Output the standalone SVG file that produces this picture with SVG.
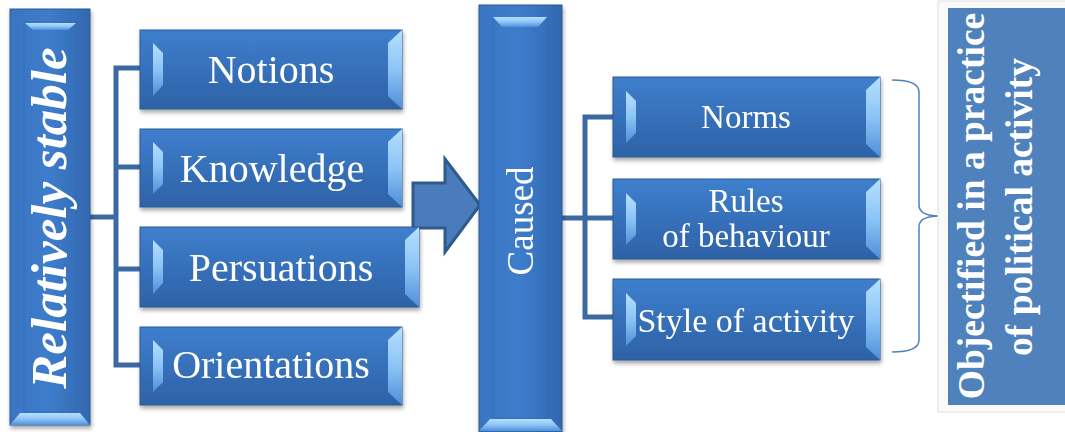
<svg xmlns="http://www.w3.org/2000/svg" width="1065" height="432" viewBox="0 0 1065 432">
<style>
.box{fill:url(#gBox);stroke:#2b5a92;stroke-width:1}
.frame{fill:none;stroke:#2f66a8;stroke-opacity:0.55;stroke-width:1}
.bev{fill:url(#gBev)}
.t{font-family:"Liberation Serif","Times New Roman",serif;fill:#ffffff;text-anchor:middle}
.conn{fill:none;stroke:#3b6aa3;stroke-width:5;stroke-linejoin:miter}
</style>
<defs>
<linearGradient id="gBox" x1="0" y1="0" x2="0" y2="1">
<stop offset="0" stop-color="#3f7fcd"/>
<stop offset="0.5" stop-color="#3670ba"/>
<stop offset="1" stop-color="#2e62a6"/>
</linearGradient>
<linearGradient id="gBoxV" x1="0" y1="0" x2="1" y2="0">
<stop offset="0" stop-color="#3a75c2"/>
<stop offset="0.5" stop-color="#3d7ccb"/>
<stop offset="1" stop-color="#3268b0"/>
</linearGradient>
<linearGradient id="gBev" x1="0" y1="0" x2="0" y2="1">
<stop offset="0" stop-color="#b6e0ff"/>
<stop offset="0.5" stop-color="#8cc4f6"/>
<stop offset="1" stop-color="#4f8fd8"/>
</linearGradient>
<filter id="sh" x="-10%" y="-10%" width="120%" height="125%">
<feGaussianBlur in="SourceAlpha" stdDeviation="2"/>
<feOffset dx="1" dy="3" result="b"/>
<feComponentTransfer><feFuncA type="linear" slope="0.35"/></feComponentTransfer>
<feMerge><feMergeNode/><feMergeNode in="SourceGraphic"/></feMerge>
</filter>
</defs>
<rect width="1065" height="432" fill="#ffffff"/>

<g id="connectors">
<polyline class="conn" points="90,217 116,217"/>
<polyline class="conn" points="140,68 116,68 116,365 140,365"/>
<polyline class="conn" points="116,167 140,167"/>
<polyline class="conn" points="116,269 140,269"/>
<polyline class="conn" points="562,218 585,218"/>
<polyline class="conn" points="613,117 585,117 585,317 613,317"/>
<polyline class="conn" points="585,218 613,218"/>
<polygon id="arrow" points="413,183 445,183 445,159 480,205 445,252 445,228 413,228" fill="#4a7bbb" stroke="#2f5a8c" stroke-width="3" stroke-linejoin="miter"/>
<path id="brace" d="M892,80 Q919,80 919,92 L919,205 Q919,216 939,216 Q919,216 919,227 L919,340 Q919,352 892,352" fill="none" stroke="#4f81bd" stroke-width="1.5"/>
</g>

<g id="relatively-stable" filter="url(#sh)">
<rect class="box" x="10" y="9" width="80" height="416" style="fill:url(#gBoxV)"/>
<rect class="frame" x="24" y="22" width="52" height="390"/>
<polygon class="bev" points="25,23 76,23 68,30 33,30"/>
<polygon class="bev" points="20,413 80,413 90,425 10,425"/>
<text class="t" transform="translate(66,218) rotate(-90)" font-size="51" font-weight="bold" font-style="italic">Relatively  stable</text>
</g>

<g id="notions" filter="url(#sh)">
<rect class="box" x="140" y="30" width="262" height="79"/>
<polygon class="bev" points="153,43 163,53 163,85 153,96"/>
<polygon class="bev" points="402,30 388,43 388,96 402,109"/>
<text class="t" x="271" y="83" font-size="40">Notions</text>
</g>

<g id="knowledge" filter="url(#sh)">
<rect class="box" x="140" y="129" width="262" height="78"/>
<polygon class="bev" points="153,142 163,152 163,184 153,194"/>
<polygon class="bev" points="402,129 388,142 388,194 402,207"/>
<text class="t" x="272" y="182" font-size="40">Knowledge</text>
</g>

<g id="persuations" filter="url(#sh)">
<rect class="box" x="140" y="227" width="279" height="80"/>
<polygon class="bev" points="153,240 163,250 163,283 153,294"/>
<polygon class="bev" points="419,227 405,240 405,294 419,307"/>
<text class="t" x="281" y="281" font-size="40">Persuations</text>
</g>

<g id="orientations" filter="url(#sh)">
<rect class="box" x="140" y="327" width="262" height="78"/>
<polygon class="bev" points="153,340 163,350 163,382 153,392"/>
<polygon class="bev" points="402,327 388,340 388,392 402,405"/>
<text class="t" x="271" y="378" font-size="40">Orientations</text>
</g>

<g id="caused" filter="url(#sh)">
<rect class="box" x="479" y="5" width="83" height="427" style="fill:url(#gBoxV)"/>
<rect class="frame" x="493" y="18" width="55" height="400"/>
<polygon class="bev" points="493,17 547,17 538,27 502,27"/>
<polygon class="bev" points="490,419 551,419 562,431 479,431"/>
<text class="t" transform="translate(533,221) rotate(-90)" font-size="37">Caused</text>
</g>

<g id="norms" filter="url(#sh)">
<rect class="box" x="613" y="77" width="267" height="80"/>
<polygon class="bev" points="626,91 636,101 636,133 626,143"/>
<polygon class="bev" points="880,77 866,90 866,144 880,157"/>
<text class="t" x="746" y="128" font-size="33">Norms</text>
</g>

<g id="rules" filter="url(#sh)">
<rect class="box" x="613" y="179" width="267" height="80"/>
<polygon class="bev" points="626,193 636,203 636,235 626,245"/>
<polygon class="bev" points="880,179 866,192 866,246 880,259"/>
<text class="t" x="746" y="212" font-size="33">Rules</text>
<text class="t" x="746" y="247" font-size="33">of behaviour</text>
</g>

<g id="style" filter="url(#sh)">
<rect class="box" x="613" y="279" width="267" height="81"/>
<polygon class="bev" points="626,293 636,303 636,336 626,346"/>
<polygon class="bev" points="880,279 866,292 866,347 880,360"/>
<text class="t" x="746" y="332" font-size="34">Style of activity</text>
</g>

<g id="objectified">
<rect x="938" y="1" width="135" height="411" fill="#fafafa" stroke="#e0e0e0" stroke-width="1"/>
<rect x="948" y="8" width="120" height="397" fill="#4f81bd"/>
<text class="t" transform="translate(984,206) rotate(-90)" font-size="37.5" font-weight="bold">Objectified in a practice</text>
<text class="t" transform="translate(1032,207) rotate(-90)" font-size="37.5" font-weight="bold">of political activity</text>
</g>
</svg>
